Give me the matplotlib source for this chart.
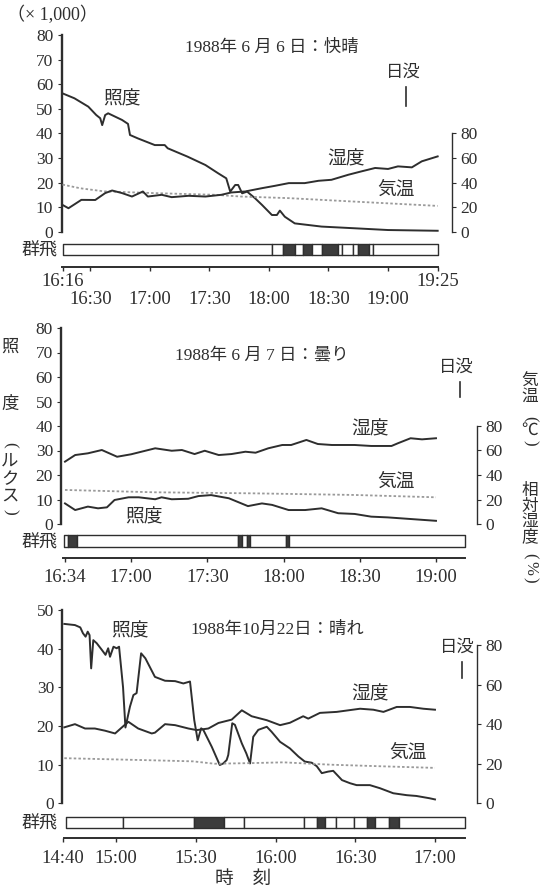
import numpy as np
import matplotlib
matplotlib.use('Agg')
import matplotlib.pyplot as plt
import matplotlib.transforms as mtransforms

W, H = 549, 889
DARK = '#2e2e2e'
FILL = '#3c3c3c'
DOT = '#9a9a9a'

plt.rcParams['font.family'] = ['Liberation Serif', 'Noto Sans CJK JP']
plt.rcParams['text.color'] = DARK
plt.rcParams['axes.edgecolor'] = DARK
plt.rcParams['xtick.color'] = DARK
plt.rcParams['ytick.color'] = DARK

# times are minutes after midnight; illuminance in 1,000 lux,
# humidity in %, air temperature in deg C (right-hand scale)

# 1988-06-06, clear
jun6_lux_t = [976, 982, 989, 993, 995, 996, 997.5, 999, 1006, 1009,
              1010, 1014, 1022.5, 1027.5, 1029, 1039, 1048, 1054.5, 1058.5, 1060.5,
              1063, 1064.5, 1066.5, 1069, 1073, 1076.5, 1081.5, 1084, 1085.5, 1088,
              1093, 1106.5, 1123.5, 1140, 1165]
jun6_lux = [56.3, 54.3, 50.9, 47.5, 46.2, 43.4, 47.5, 48.2, 45.5, 43.9,
            39.4, 38.0, 35.3, 35.3, 34.0, 30.6, 27.2, 23.8, 21.8, 16.4,
            19.1, 19.1, 15.7, 16.4, 13.7, 11.0, 6.9, 6.9, 8.7, 6.2,
            3.5, 2.2, 1.5, 0.8, 0.5]
jun6_hum_t = [976, 979, 985.5, 992.5, 997.5, 1001, 1006, 1011, 1016.5, 1019,
              1026, 1031, 1039.5, 1048, 1056, 1061, 1068, 1076.5, 1083, 1090,
              1098, 1105, 1111.5, 1120, 1126.5, 1133.5, 1140, 1145, 1152, 1157, 1165]
jun6_hum = [22.0, 19.3, 26.1, 26.0, 31.6, 33.7, 31.6, 28.8, 32.9, 28.8,
            30.2, 28.3, 29.4, 28.8, 30.2, 32.1, 32.9, 35.6, 37.5, 39.7,
            39.7, 41.6, 42.4, 46.5, 49.2, 52.0, 51.2, 53.3, 52.5, 57.4, 61.4]
jun6_temp_t = [976, 985, 997, 1022, 1053, 1066, 1090, 1123, 1165]
jun6_temp = [38.5, 35.5, 33.0, 31.6, 30.2, 28.8, 27.5, 24.7, 21.2]
jun6_swarm_edges = [976, 1081.5, 1087, 1093, 1097, 1101.5, 1106.5, 1115, 1117,
                    1122.5, 1125, 1130.5, 1132.5, 1165]
jun6_swarm_on = [0, 0, 1, 0, 1, 0, 1, 0, 0, 0, 1, 0, 0]

# 1988-06-07, cloudy
jun7_lux_t = [994, 998, 1003, 1007, 1010.5, 1013.5, 1019, 1023, 1029.5, 1032,
              1036, 1042.5, 1046.5, 1051.5, 1058.5, 1066, 1071.5, 1075.5, 1082, 1088.5,
              1095, 1101.5, 1108, 1114.5, 1121, 1140]
jun7_lux = [8.4, 5.7, 7.1, 6.4, 6.8, 9.8, 10.9, 10.9, 10.1, 10.9,
            10.1, 10.3, 11.4, 11.8, 10.5, 7.3, 8.4, 7.8, 5.7, 5.7,
            6.4, 4.4, 4.1, 3.0, 2.7, 1.3]
jun7_hum_t = [994, 998, 1003, 1008.5, 1014.5, 1020, 1029.5, 1036, 1040, 1045,
              1049, 1054.5, 1059.5, 1065, 1069, 1074, 1079.5, 1083, 1089, 1093.5,
              1099, 1108, 1114.5, 1122.5, 1125, 1130, 1134.5, 1140]
jun7_hum = [50.9, 56.3, 57.7, 60.4, 54.9, 56.9, 61.8, 59.8, 60.4, 57.1,
            59.8, 56.3, 57.1, 59.0, 58.2, 61.8, 64.5, 64.5, 68.6, 65.3,
            64.5, 64.5, 63.7, 63.7, 65.9, 70.0, 69.1, 70.0]
jun7_temp_t = [994, 1029, 1069, 1108, 1140]
jun7_temp = [27.8, 25.9, 25.0, 23.7, 21.8]
jun7_swarm_edges = [993.5, 995, 998.6, 1062, 1063.5, 1065.5, 1067, 1081, 1082.2, 1151.4]
jun7_swarm_on = [0, 1, 0, 1, 0, 1, 0, 1, 0]

# 1988-10-22, fine
oct22_lux_t = [880.5, 884.5, 886.5, 887.5, 888.5, 889.3, 890, 890.6, 891.4, 892.7,
               894.6, 896, 897, 897.7, 899, 900.2, 901.1, 902.6, 903.5, 905.2,
               906.5, 907.7, 909.4, 911, 914.6, 918.4, 922.2, 925.3, 927.8, 929.4,
               930.7, 932, 932.8, 936, 939, 940.3, 941.6, 942.2, 943.7, 944.7,
               947.3, 949, 950.4, 951.6, 953.5, 956.7, 958.5, 961.7, 965.4, 968.6,
               971, 973.6, 975.5, 977.4, 979.8, 981.7, 985, 988, 990.5, 995.5,
               999.3, 1004.3, 1009.4, 1013, 1018, 1020]
oct22_lux = [46.4, 46.1, 45.5, 44.0, 43.1, 44.4, 43.5, 34.9, 42.2, 41.4,
             39.7, 38.4, 40.1, 37.9, 40.5, 40.1, 40.5, 30.0, 19.6, 25.0,
             28.0, 28.5, 38.8, 37.5, 32.7, 31.7, 31.6, 31.0, 31.5, 21.5,
             16.3, 19.4, 19.0, 14.6, 9.9, 10.3, 11.2, 12.5, 20.7, 20.3,
             15.5, 12.9, 10.3, 17.2, 19.0, 19.8, 18.5, 15.9, 14.2, 12.1,
             10.8, 10.5, 9.6, 7.8, 8.2, 8.4, 6.0, 5.2, 4.7, 4.7,
             3.9, 2.6, 2.1, 1.9, 1.3, 1.0]
oct22_hum_t = [880.5, 884.5, 888.3, 892, 895.8, 899.6, 902.7, 904.6, 908.3, 913.4,
               914.6, 918.4, 922.2, 927.2, 930.3, 934.7, 938.5, 943.5, 947.3, 951,
               956.7, 961.7, 965.4, 970.4, 972.3, 976.7, 983, 991.8, 996.8, 1000.6,
               1005.6, 1010.6, 1015.6, 1020]
oct22_hum = [38.4, 40.0, 37.8, 37.8, 36.7, 35.3, 39.0, 41.2, 37.8, 35.3,
             35.7, 40.0, 39.5, 37.8, 37.0, 37.8, 40.6, 42.3, 47.0, 44.0,
             42.0, 39.5, 40.7, 44.0, 42.8, 45.7, 46.2, 47.8, 47.3, 46.2,
             48.7, 48.7, 47.8, 47.3]
oct22_temp_t = [880.5, 914.6, 929, 937, 950, 963, 981, 1000, 1020]
oct22_temp = [22.8, 21.7, 21.2, 20.0, 20.3, 20.7, 19.5, 18.7, 17.9]
oct22_swarm_edges = [881, 902.4, 929.4, 940.6, 948, 970.7, 975.6, 978.6, 982.7,
                     989.4, 994.6, 997.3, 1002.6, 1006.3, 1031.3]
oct22_swarm_on = [0, 0, 1, 0, 0, 0, 1, 0, 0, 0, 1, 0, 1, 0]

# sunset (minutes after midnight)
sunsets = [1149, 1149.5, 1030]

jun6_ticks = [990, 1020, 1050, 1080, 1110, 1140]
jun6_end_ticks = [976, 1165]
jun7_ticks = [994, 1020, 1050, 1080, 1110, 1140]
oct22_ticks = [880, 900, 930, 960, 990, 1020]

titles = ['1988年 6 月 6 日：快晴', '1988年 6 月 7 日：曇り', '1988年10月22日：晴れ']


def clock(m):
    return f'{int(m) // 60}:{int(m) % 60:02d}'


def px_box(x0, y0, x1, y1):
    return [x0 / W, 1 - y1 / H, (x1 - x0) / W, (y1 - y0) / H]


def fig_text(fig, x, y, s, **kw):
    kw.setdefault('ha', 'center')
    kw.setdefault('va', 'center')
    fig.text(x / W, 1 - y / H, s, **kw)


def draw_panel(fig, lay, lux_t, lux, hum_t, hum, temp_t, temp,
               edges, on, ticks, sunset, end_ticks=None):
    xlim = (lay['t_ref'] - (lay['x_ref'] - lay['left']) / lay['ppm'],
            lay['t_ref'] + (lay['right'] - lay['x_ref']) / lay['ppm'])

    ax = fig.add_axes(px_box(lay['left'], lay['y_top'], lay['right'], lay['y_zero']))
    ax.set_xlim(xlim)
    ax.set_ylim(0, lay['ymax'])
    ax.patch.set_visible(False)
    for s in ('top', 'bottom', 'right'):
        ax.spines[s].set_visible(False)
    ax.spines['left'].set_linewidth(1.7)
    ax.set_xticks([])
    ax.set_yticks(np.arange(0, lay['ymax'] + 1, 10))
    ax.tick_params(axis='y', direction='out', length=3, width=0.8, pad=3, labelsize=12.5)
    ax.plot(lux_t, lux, color=DARK, lw=1.4, clip_on=False, zorder=3)

    ax2 = ax.twinx()
    ax2.set_ylim(0, lay['ymax_r'])
    for s in ('top', 'bottom', 'left'):
        ax2.spines[s].set_visible(False)
    ax2.spines['right'].set_bounds(0, 80)
    ax2.spines['right'].set_linewidth(1.0)
    ax2.set_yticks([0, 20, 40, 60, 80])
    ax2.tick_params(axis='y', direction='out', length=3, width=0.8, pad=3, labelsize=12.5)
    ax2.plot(temp_t, temp, color=DOT, lw=1.3, ls=(0, (1.4, 1.2)), clip_on=False)
    ax2.plot(hum_t, hum, color=DARK, lw=1.4, clip_on=False, zorder=3)

    # sunset marker
    y_span = lay['y_zero'] - lay['y_top']
    f0 = (lay['y_zero'] - lay['sun'][1]) / y_span
    f1 = (lay['y_zero'] - lay['sun'][0]) / y_span
    blend = mtransforms.blended_transform_factory(ax.transData, ax.transAxes)
    ax.plot([sunset, sunset], [f0, f1], color=DARK, lw=1.2, transform=blend, clip_on=False)
    ax.text(sunset - 1.5, f1 + 0.03, '日没', transform=blend, ha='center', va='bottom',
            fontsize=12.5)

    # swarm flight bar
    bar = fig.add_axes(px_box(lay['left'], lay['bar'][0], lay['right'], lay['bar'][1]))
    bar.set_xlim(xlim)
    bar.set_ylim(0, 1)
    bar.axis('off')
    spans = [(a, b - a) for a, b in zip(edges[:-1], edges[1:])]
    colors = [FILL if f else 'white' for f in on]
    bar.broken_barh(spans, (0, 1), facecolors=colors, edgecolor=DARK,
                    linewidth=1.0, clip_on=False)
    fig_text(fig, 39.5, (lay['bar'][0] + lay['bar'][1]) / 2 + 1.5, '群飛', fontsize=13)

    # time axis
    tax = fig.add_axes(px_box(lay['left'], lay['line_y'] - 2, lay['right'], lay['line_y']))
    tax.set_xlim(xlim)
    tax.patch.set_visible(False)
    for s in ('top', 'left', 'right'):
        tax.spines[s].set_visible(False)
    tax.spines['bottom'].set_bounds(xlim[0] + 0.5, edges[-1])
    tax.spines['bottom'].set_linewidth(1.4)
    tax.set_yticks([])
    tax.set_xticks(ticks, labels=[clock(t) for t in ticks])
    tax.tick_params(axis='x', which='major', direction='out', length=3, width=1.0,
                    pad=lay['tick_pad'], labelsize=13.5)
    if end_ticks:
        tax.set_xticks(end_ticks, labels=[clock(t) for t in end_ticks], minor=True)
        tax.tick_params(axis='x', which='minor', direction='out', length=3, width=1.0,
                        pad=1.5, labelsize=13.5)
    return ax


fig = plt.figure(figsize=(W / 100, H / 100), dpi=100)

top = dict(left=61.5, right=452, t_ref=976, x_ref=62.5, ppm=1.985,
           y_top=35, y_zero=232, ymax=80, ymax_r=160, bar=(244, 255), line_y=267,
           tick_pad=14, sun=(87, 106))
mid = dict(left=61.3, right=477, t_ref=994, x_ref=65, ppm=2.541,
           y_top=328, y_zero=524, ymax=80, ymax_r=160, bar=(535, 547), line_y=558,
           tick_pad=5, sun=(382, 397))
bot = dict(left=62.3, right=477, t_ref=880, x_ref=63, ppm=2.657,
           y_top=610, y_zero=803.3, ymax=50, ymax_r=97.7, bar=(817, 828), line_y=838,
           tick_pad=5.5, sun=(662, 678))

draw_panel(fig, top, jun6_lux_t, jun6_lux, jun6_hum_t, jun6_hum, jun6_temp_t, jun6_temp,
           jun6_swarm_edges, jun6_swarm_on, jun6_ticks, sunsets[0], jun6_end_ticks)
draw_panel(fig, mid, jun7_lux_t, jun7_lux, jun7_hum_t, jun7_hum, jun7_temp_t, jun7_temp,
           jun7_swarm_edges, jun7_swarm_on, jun7_ticks, sunsets[1])
draw_panel(fig, bot, oct22_lux_t, oct22_lux, oct22_hum_t, oct22_hum, oct22_temp_t, oct22_temp,
           oct22_swarm_edges, oct22_swarm_on, oct22_ticks, sunsets[2])

# panel titles and series labels
fig_text(fig, 272, 48, titles[0], fontsize=12.5)
fig_text(fig, 262, 355, titles[1], fontsize=12.5)
fig_text(fig, 277, 630, titles[2], fontsize=12.5)

for x, y, s in [(122, 100, '照度'), (346, 160, '湿度'), (396, 190, '気温'),
                (370, 430, '湿度'), (396, 482, '気温'), (144, 518, '照度'),
                (130, 632, '照度'), (370, 695, '湿度'), (408, 753, '気温')]:
    fig_text(fig, x, y, s, fontsize=13.5)

fig_text(fig, 52, 15, '（× 1,000）', fontsize=13)
fig_text(fig, 243, 879, '時　刻', fontsize=13.5)

# vertical axis titles
for y, s, rot in [(348, '照', 0), (405, '度', 0), (445, '(', -90), (462, 'ル', 0),
                  (480, 'ク', 0), (497, 'ス', 0), (512, ')', -90)]:
    fig_text(fig, 10, y, s, fontsize=12.5, rotation=rot)
for y, s, rot in [(382, '気', 0), (397, '温', 0), (419, '(', -90), (431, '℃', 0),
                  (443, ')', -90), (491, '相', 0), (507, '対', 0), (522, '湿', 0),
                  (537, '度', 0), (556, '(', -90), (568, '%', -90), (580, ')', -90)]:
    fig_text(fig, 530, y, s, fontsize=12, rotation=rot)

fig.savefig('out.png', dpi=100)
